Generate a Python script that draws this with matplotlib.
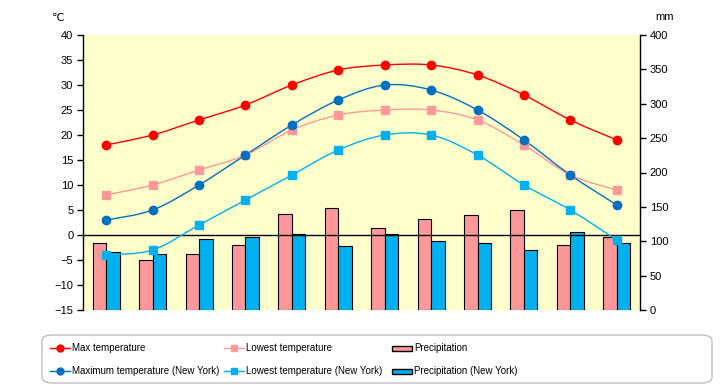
import matplotlib
matplotlib.use("Agg")
import matplotlib.pyplot as plt
import numpy as np
from matplotlib.path import Path
from matplotlib.patches import PathPatch, FancyBboxPatch, Rectangle
from matplotlib.lines import Line2D
from matplotlib import font_manager

months = ["Jan", "Feb", "Mar", "Apr", "May", "Jun", "Jul", "Aug", "Sep", "Oct", "Nov", "Dec"]
max_temp = [18, 20, 23, 26, 30, 33, 34, 34, 32, 28, 23, 19]
low_temp = [8, 10, 13, 16, 21, 24, 25, 25, 23, 18, 12, 9]
ny_max_temp = [3, 5, 10, 16, 22, 27, 30, 29, 25, 19, 12, 6]
ny_low_temp = [-4, -3, 2, 7, 12, 17, 20, 20, 16, 10, 5, -1]
precip = [97, 73, 82, 95, 139, 149, 120, 133, 138, 146, 94, 106]
ny_precip = [85, 82, 103, 106, 111, 93, 110, 101, 98, 88, 113, 98]

plt.rcParams['font.family'] = ['Liberation Sans', 'DejaVu Sans', 'Noto Sans CJK JP']
installed = {f.name for f in font_manager.fontManager.ttflist}
leg_family = ['Liberation Sans Narrow'] if 'Liberation Sans Narrow' in installed else ['Liberation Sans']
leg_size = 8 if 'Liberation Sans Narrow' in installed else 7

W, H = 720, 385
fig = plt.figure(figsize=(W / 100, H / 100), dpi=100)
L, R, T, B = 83, 640, 35, 310
ax2 = fig.add_axes([L / W, 1 - B / H, (R - L) / W, (B - T) / H])
ax = ax2.twinx()
ax.set_zorder(ax2.get_zorder() + 1)
ax.patch.set_visible(False)
ax2.set_facecolor("#FFFFCC")

x = np.arange(len(months))
bw = 0.29
ax2.bar(x - bw / 2, precip, width=bw, color="#FF9999", edgecolor="black", linewidth=0.8)
ax2.bar(x + bw / 2, ny_precip, width=bw, color="#00B0F0", edgecolor="black", linewidth=0.8)
ax2.set_ylim(0, 400)
ax2.set_xlim(-0.5, 11.5)
ax.set_ylim(-15, 40)

ax.yaxis.tick_left()
ax2.yaxis.tick_right()
ax.set_yticks(np.arange(-15, 41, 5))
ax.set_yticklabels([str(v).replace("-", "\u2212") for v in range(-15, 41, 5)])
ax2.set_yticks(np.arange(0, 401, 50))
for a in (ax, ax2):
    for s in a.spines.values():
        s.set_visible(False)
ax.spines['left'].set_visible(True)
ax.spines['right'].set_visible(True)
ax.spines['left'].set_linewidth(1)
ax.spines['right'].set_linewidth(1)
ax.tick_params(axis='y', direction='out', length=4, width=1, labelsize=8, pad=3)
ax2.tick_params(axis='y', direction='out', length=4, width=1, labelsize=8, pad=3)
ax2.set_xticks(x)
ax2.set_xticklabels(months)
ax2.tick_params(axis='x', length=0, labelsize=8, pad=6)
ax.set_xticks([])

ax.axhline(0, color="black", linewidth=1, zorder=3)


def smooth_path(xs, ys):
    pts = np.column_stack([xs, ys]).astype(float)
    n = len(pts)
    verts = [pts[0]]
    codes = [Path.MOVETO]
    for i in range(n - 1):
        p0 = pts[i - 1] if i > 0 else pts[i]
        p1 = pts[i]
        p2 = pts[i + 1]
        p3 = pts[i + 2] if i + 2 < n else pts[i + 1]
        c1 = p1 + (p2 - p0) / 6.0
        c2 = p2 - (p3 - p1) / 6.0
        verts += [c1, c2, p2]
        codes += [Path.CURVE4] * 3
    return Path(verts, codes)


series = [
    (max_temp, "#FF0000", "o", 6),
    (low_temp, "#FF9999", "s", 5.5),
    (ny_max_temp, "#0070C0", "o", 6),
    (ny_low_temp, "#00B0F0", "s", 5.5),
]
for ys, col, mk, ms in series:
    ax.add_patch(PathPatch(smooth_path(x, ys), fill=False, edgecolor=col, linewidth=1, zorder=4))
    ax.plot(x, ys, linestyle="none", marker=mk, color=col, markersize=ms, zorder=5)

fig.text(58 / W, 1 - 18 / H, "℃", fontsize=8, ha="center", va="center",
         family=['DejaVu Sans', 'Noto Sans CJK JP'])
fig.text(665 / W, 1 - 17 / H, "mm", fontsize=8, ha="center", va="center")

# legend box
fig.patches.append(FancyBboxPatch((42 / W, 2 / H), (712 - 42) / W, (383 - 335) / H,
                                  boxstyle="round,pad=0,rounding_size=0.015",
                                  transform=fig.transFigure, facecolor="white",
                                  edgecolor="#BFBFBF", linewidth=1))

entries = [
    ("line", "#FF0000", "o", "Max temperature", 50, 348),
    ("line", "#0070C0", "o", "Maximum temperature (New York)", 50, 371),
    ("line", "#FF9999", "s", "Lowest temperature", 224, 348),
    ("line", "#00B0F0", "s", "Lowest temperature (New York)", 224, 371),
    ("bar", "#FF9999", None, "Precipitation", 392, 348),
    ("bar", "#00B0F0", None, "Precipitation (New York)", 392, 371),
]
for kind, col, mk, label, px, py in entries:
    yf = 1 - py / H
    if kind == "line":
        fig.lines.append(Line2D([px / W, (px + 20) / W], [yf, yf], color=col, linewidth=1,
                                transform=fig.transFigure))
        fig.lines.append(Line2D([(px + 10) / W], [yf], color=col, marker=mk, markersize=5,
                                transform=fig.transFigure))
    else:
        fig.patches.append(Rectangle((px / W, yf - 2.5 / H), 20 / W, 5 / H, facecolor=col,
                                     edgecolor="black", linewidth=1, transform=fig.transFigure))
    fig.text((px + 22) / W, yf, label, fontsize=leg_size, ha="left", va="center",
             family=leg_family)

fig.savefig("out.png", dpi=100)
